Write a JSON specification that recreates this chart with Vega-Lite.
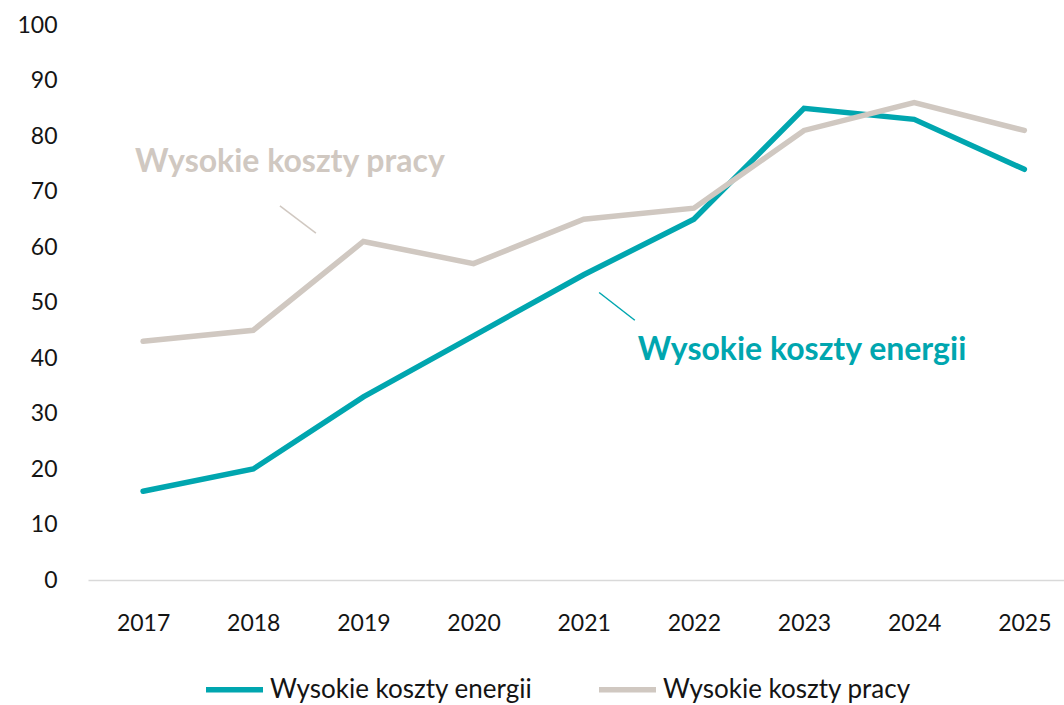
{
  "$schema": "https://vega.github.io/schema/vega-lite/v6.json",
  "width": 976,
  "height": 555,
  "autosize": {"type": "none"},
  "padding": {"left": 88, "top": 25, "right": 0, "bottom": 125},
  "background": "white",
  "config": {
    "view": {"stroke": null},
    "font": "Lato",
    "axis": {"labelFont": "Lato", "labelColor": "#141414", "labelFontSize": 23, "grid": false, "ticks": false, "title": null},
    "legend": {"labelFont": "Lato"}
  },
  "datasets": {
    "series": [
      {"year": 2017, "series": "Wysokie koszty energii", "value": 16},
      {"year": 2018, "series": "Wysokie koszty energii", "value": 20},
      {"year": 2019, "series": "Wysokie koszty energii", "value": 33},
      {"year": 2020, "series": "Wysokie koszty energii", "value": 44},
      {"year": 2021, "series": "Wysokie koszty energii", "value": 55},
      {"year": 2022, "series": "Wysokie koszty energii", "value": 65},
      {"year": 2023, "series": "Wysokie koszty energii", "value": 85},
      {"year": 2024, "series": "Wysokie koszty energii", "value": 83},
      {"year": 2025, "series": "Wysokie koszty energii", "value": 74},
      {"year": 2017, "series": "Wysokie koszty pracy", "value": 43},
      {"year": 2018, "series": "Wysokie koszty pracy", "value": 45},
      {"year": 2019, "series": "Wysokie koszty pracy", "value": 61},
      {"year": 2020, "series": "Wysokie koszty pracy", "value": 57},
      {"year": 2021, "series": "Wysokie koszty pracy", "value": 65},
      {"year": 2022, "series": "Wysokie koszty pracy", "value": 67},
      {"year": 2023, "series": "Wysokie koszty pracy", "value": 81},
      {"year": 2024, "series": "Wysokie koszty pracy", "value": 86},
      {"year": 2025, "series": "Wysokie koszty pracy", "value": 81}
    ],
    "labels": [
      {"series": "Wysokie koszty pracy", "year": 2016.927, "value": 73.5, "text": "Wysokie koszty pracy"},
      {"series": "Wysokie koszty energii", "year": 2021.491, "value": 39.6, "text": "Wysokie koszty energii"}
    ],
    "leaders": [
      {"series": "Wysokie koszty pracy", "year": 2018.242, "value": 67.4, "year2": 2018.569, "value2": 62.5},
      {"series": "Wysokie koszty energii", "year": 2021.14, "value": 51.8, "year2": 2021.464, "value2": 46.8}
    ]
  },
  "layer": [
    {
      "data": {"name": "series"},
      "mark": {"type": "line", "strokeWidth": 5.5, "strokeCap": "round", "strokeJoin": "miter"},
      "encoding": {
        "x": {
          "field": "year", "type": "quantitative",
          "scale": {"domain": [2016.5, 2025.36], "nice": false, "zero": false},
          "axis": {"values": [2017, 2018, 2019, 2020, 2021, 2022, 2023, 2024, 2025], "format": "d", "domainColor": "#d9d9d9", "domainWidth": 1.5, "labelPadding": 32, "labelFlush": false}
        },
        "y": {
          "field": "value", "type": "quantitative",
          "scale": {"domain": [0, 100], "nice": false},
          "axis": {"values": [0, 10, 20, 30, 40, 50, 60, 70, 80, 90, 100], "domain": false, "labelPadding": 31}
        },
        "color": {
          "field": "series", "type": "nominal",
          "scale": {"domain": ["Wysokie koszty energii", "Wysokie koszty pracy"], "range": ["#00A6AF", "#D0C8C1"]},
          "legend": {
            "title": null, "orient": "none", "direction": "horizontal",
            "legendX": 115, "legendY": 633,
            "symbolType": "stroke", "symbolSize": 3249, "symbolStrokeWidth": 5.5,
            "labelFontSize": 26, "labelColor": "#141414", "labelOffset": 4,
            "columnPadding": 55, "labelLimit": 400
          }
        }
      }
    },
    {
      "data": {"name": "leaders"},
      "transform": [{"filter": "datum.series == 'Wysokie koszty pracy'"}],
      "mark": {"type": "rule", "color": "#D0C8C1", "strokeWidth": 1.5},
      "encoding": {
        "x": {"field": "year", "type": "quantitative"},
        "y": {"field": "value", "type": "quantitative"},
        "x2": {"field": "year2"},
        "y2": {"field": "value2"}
      }
    },
    {
      "data": {"name": "leaders"},
      "transform": [{"filter": "datum.series == 'Wysokie koszty energii'"}],
      "mark": {"type": "rule", "color": "#00A6AF", "strokeWidth": 1.5},
      "encoding": {
        "x": {"field": "year", "type": "quantitative"},
        "y": {"field": "value", "type": "quantitative"},
        "x2": {"field": "year2"},
        "y2": {"field": "value2"}
      }
    },
    {
      "data": {"name": "labels"},
      "transform": [{"filter": "datum.series == 'Wysokie koszty pracy'"}],
      "mark": {"type": "text", "align": "left", "baseline": "alphabetic", "fontSize": 32, "fontWeight": "bold", "color": "#D0C8C1"},
      "encoding": {
        "x": {"field": "year", "type": "quantitative"},
        "y": {"field": "value", "type": "quantitative"},
        "text": {"field": "text"}
      }
    },
    {
      "data": {"name": "labels"},
      "transform": [{"filter": "datum.series == 'Wysokie koszty energii'"}],
      "mark": {"type": "text", "align": "left", "baseline": "alphabetic", "fontSize": 32, "fontWeight": "bold", "color": "#00A6AF"},
      "encoding": {
        "x": {"field": "year", "type": "quantitative"},
        "y": {"field": "value", "type": "quantitative"},
        "text": {"field": "text"}
      }
    }
  ]
}
